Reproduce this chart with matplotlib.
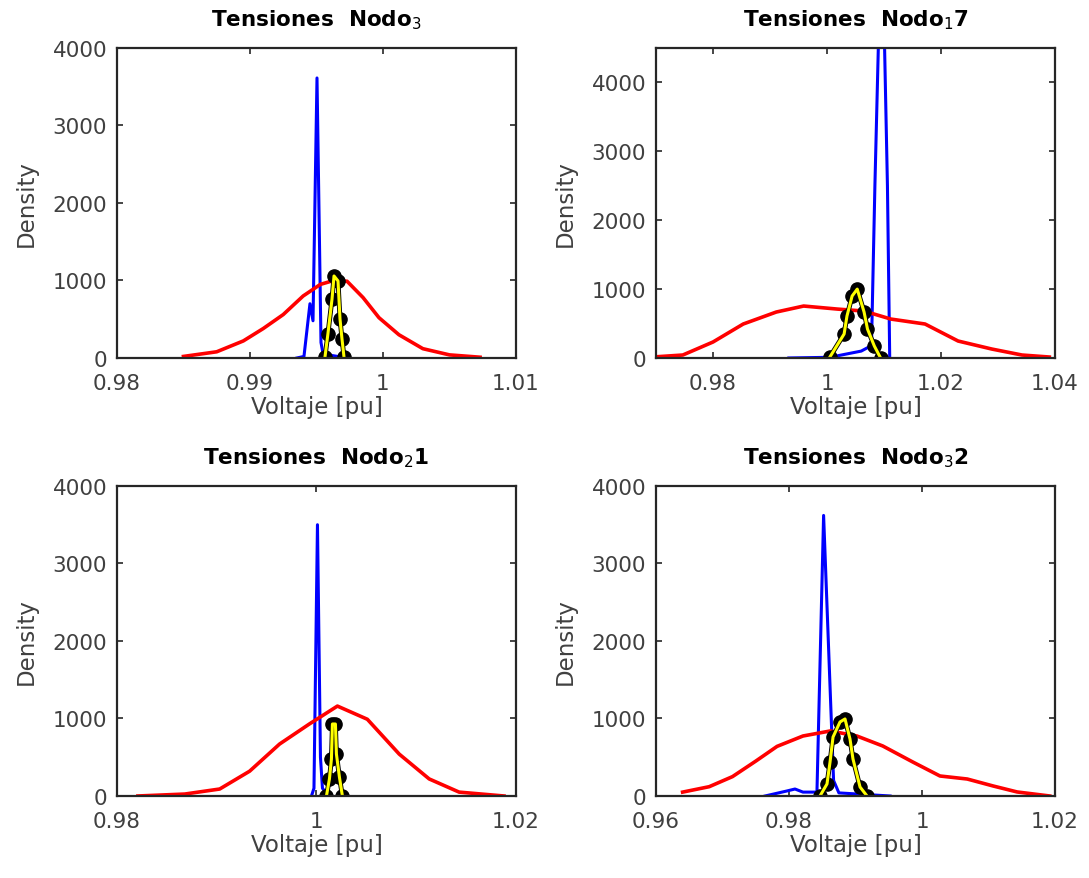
import matplotlib.pyplot as plt
from matplotlib.ticker import FormatStrFormatter

plt.rcParams['font.family'] = ['DejaVu Sans']

# ---- Nodo 3 ----
n3_red_x = [0.9850, 0.9875, 0.9895, 0.9910, 0.9925, 0.9940, 0.9953, 0.9963, 0.9973,
            0.9985, 0.9997, 1.0012, 1.0030, 1.0050, 1.0073]
n3_red_y = [20, 80, 220, 380, 560, 800, 950, 1000, 990, 780, 520, 300, 120, 40, 10]
n3_blue_x = [0.99353, 0.99406, 0.99451, 0.99474, 0.99504, 0.99534, 0.99550, 0.99660, 0.99680]
n3_blue_y = [0, 20, 700, 480, 3613, 200, 50, 20, 0]
n3_mc_x = [0.99564, 0.99586, 0.99617, 0.99632, 0.99662, 0.99677, 0.99692, 0.99707]
n3_mc_y = [13, 310, 761, 1058, 994, 503, 245, 13]

# ---- Nodo 17 ----
n17_red_x = [0.9694, 0.9747, 0.9800, 0.9853, 0.9911, 0.9959, 1.0018, 1.0065, 1.0112,
             1.0172, 1.0230, 1.0289, 1.0342, 1.0390]
n17_red_y = [14, 43, 232, 493, 667, 754, 710, 681, 565, 493, 246, 130, 43, 14]
n17_blue_x = [0.9933, 1.0005, 1.0060, 1.0078, 1.0084, 1.0096, 1.0106, 1.0110]
n17_blue_y = [0, 10, 100, 180, 2500, 6500, 2500, 0]
n17_mc_x = [1.0005, 1.0030, 1.0035, 1.0044, 1.0053, 1.0065, 1.0071, 1.0083, 1.0094]
n17_mc_y = [14, 348, 609, 899, 1000, 667, 420, 174, 0]

# ---- Nodo 21 ----
n21_red_x = [0.9821, 0.9868, 0.9903, 0.9933, 0.9963, 0.9993, 1.0021, 1.0051, 1.0083,
             1.0113, 1.0143, 1.0188]
n21_red_y = [0, 25, 90, 320, 670, 930, 1160, 990, 540, 220, 50, 0]
n21_blue_x = [0.99950, 0.99975, 1.00010, 1.00040, 1.00060, 1.00120]
n21_blue_y = [0, 100, 3500, 500, 100, 0]
n21_mc_x = [1.0010, 1.0013, 1.0015, 1.0016, 1.0019, 1.0020, 1.0023, 1.0026]
n21_mc_y = [0, 220, 477, 929, 929, 542, 245, 0]

# ---- Nodo 32 ----
n32_red_x = [0.9640, 0.9680, 0.9715, 0.9750, 0.9782, 0.9821, 0.9862, 0.9902, 0.9941,
             0.9986, 1.0027, 1.0068, 1.0107, 1.0143, 1.0192]
n32_red_y = [50, 120, 250, 450, 640, 774, 839, 774, 645, 439, 258, 219, 129, 52, 0]
n32_blue_x = [0.9764, 0.9797, 0.9809, 0.9821, 0.9842, 0.9852, 0.9867, 0.9875, 0.9952]
n32_blue_y = [0, 65, 90, 50, 50, 3620, 200, 40, 0]
n32_mc_x = [0.98466, 0.98571, 0.98617, 0.98662, 0.98767, 0.98842, 0.98917, 0.98962,
            0.99068, 0.99173]
n32_mc_y = [0, 155, 439, 761, 955, 994, 735, 477, 116, 0]

panels = [
    ('Tensiones  Nodo$_3$', n3_red_x, n3_red_y, n3_blue_x, n3_blue_y, n3_mc_x, n3_mc_y,
     (0.98, 1.01), [0.98, 0.99, 1.0, 1.01], 4000),
    ('Tensiones  Nodo$_1$7', n17_red_x, n17_red_y, n17_blue_x, n17_blue_y, n17_mc_x, n17_mc_y,
     (0.97, 1.04), [0.98, 1.0, 1.02, 1.04], 4500),
    ('Tensiones  Nodo$_2$1', n21_red_x, n21_red_y, n21_blue_x, n21_blue_y, n21_mc_x, n21_mc_y,
     (0.98, 1.02), [0.98, 1.0, 1.02], 4000),
    ('Tensiones  Nodo$_3$2', n32_red_x, n32_red_y, n32_blue_x, n32_blue_y, n32_mc_x, n32_mc_y,
     (0.96, 1.02), [0.96, 0.98, 1.0, 1.02], 4000),
]

positions = [
    [0.1074, 0.5916, 0.3664, 0.3527],
    [0.6024, 0.5916, 0.3664, 0.3527],
    [0.1074, 0.0933, 0.3664, 0.3527],
    [0.6024, 0.0933, 0.3664, 0.3527],
]

grey = '#262626'
fig = plt.figure(figsize=(10.89, 8.79), dpi=100)

for pos, (title, rx, ry, bx, by, mx, my, xl, xt, ymax) in zip(positions, panels):
    ax = fig.add_axes(pos)
    ax.plot(bx, by, color='blue', lw=2.2)
    ax.plot(rx, ry, color='red', lw=2.6)
    ax.plot(mx, my, color='black', lw=3.5, marker='o', ms=9.5)
    ax.plot(mx, my, color='yellow', lw=2.2)
    ax.set_xlim(xl)
    ax.set_ylim(0, ymax)
    ax.set_xticks(xt)
    ax.set_yticks([0, 1000, 2000, 3000, 4000])
    ax.xaxis.set_major_formatter(FormatStrFormatter('%g'))
    ax.tick_params(direction='in', top=True, right=True, length=4, width=1.2,
                   labelsize=15.5, colors=grey, labelcolor='#404040', pad=7)
    ax.tick_params(axis='x', pad=11)
    for s in ax.spines.values():
        s.set_color(grey)
        s.set_linewidth(1.6)
    ax.set_title(title, fontsize=15.5, fontweight='bold', color='black', pad=16)
    ax.set_xlabel('Voltaje [pu]', fontsize=16.5, color='#404040', labelpad=1)
    ax.set_ylabel('Density', fontsize=16.5, color='#404040', labelpad=11)

fig.savefig('out.png', dpi=100)
